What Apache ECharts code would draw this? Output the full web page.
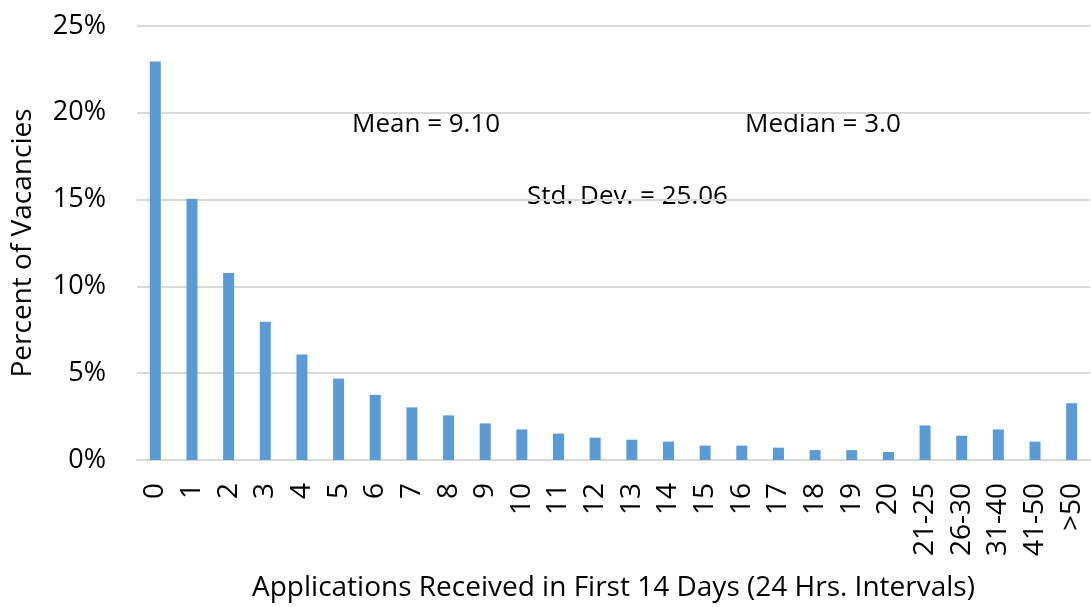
<!DOCTYPE html>
<html>
<head>
<meta charset="utf-8">
<script src="https://cdn.jsdelivr.net/npm/echarts@6/dist/echarts.min.js"></script>
<style>
  html, body { margin: 0; padding: 0; background: #fff; }
  #chart { width: 1091px; height: 607px; }
</style>
</head>
<body>
<div id="chart"></div>
<script>
const categories = ["0", "1", "2", "3", "4", "5", "6", "7", "8", "9", "10", "11", "12", "13",
  "14", "15", "16", "17", "18", "19", "20", "21-25", "26-30", "31-40", "41-50", ">50"];
const percentVacancies = [22.96, 15.05, 10.77, 7.96, 6.08, 4.69, 3.75, 3.03, 2.57, 2.11, 1.76,
  1.52, 1.29, 1.17, 1.06, 0.83, 0.83, 0.71, 0.57, 0.57, 0.46, 1.99, 1.40, 1.76, 1.06, 3.27];
const yTicks = { min: 0, max: 25, step: 5 };
const stats = ["Mean = 9.10", "Median = 3.0", "Std. Dev. = 25.06"];

const font = "'Open Sans', 'Liberation Sans', sans-serif";
const chart = echarts.init(document.getElementById("chart"));

chart.setOption({
  animation: false,
  textStyle: { fontFamily: font },
  grid: { left: 137, right: 1, top: 26, bottom: 145 },
  xAxis: {
    type: "category",
    data: categories,
    name: "Applications Received in First 14 Days (24 Hrs. Intervals)",
    nameLocation: "middle",
    nameGap: 114,
    nameTextStyle: { fontSize: 28, color: "#000", fontFamily: font },
    axisLine: { lineStyle: { color: "#d9d9d9", width: 2 } },
    axisTick: { show: false },
    axisLabel: {
      rotate: 90,
      interval: 0,
      margin: 23,
      fontSize: 28,
      color: "#000",
      fontFamily: font
    }
  },
  yAxis: {
    type: "value",
    min: yTicks.min,
    max: yTicks.max,
    interval: yTicks.step,
    name: "Percent of Vacancies",
    nameLocation: "middle",
    nameGap: 100,
    nameTextStyle: { fontSize: 28, color: "#000", fontFamily: font },
    axisLine: { show: false },
    axisTick: { show: false },
    axisLabel: {
      formatter: "{value}%",
      margin: 31,
      fontSize: 27,
      color: "#000",
      fontFamily: font
    },
    splitLine: { lineStyle: { color: "#d9d9d9", width: 2 } }
  },
  series: [
    {
      type: "bar",
      data: percentVacancies,
      barWidth: 11,
      itemStyle: { color: "#5b9bd5" }
    }
  ],
  graphic: [
    { type: "text", left: 352, top: 112, style: { text: stats[0], font: "26px " + font, fill: "#000" } },
    { type: "text", left: 745, top: 112, style: { text: stats[1], font: "26px " + font, fill: "#000" } },
    { type: "text", left: 527, top: 184, style: { text: stats[2], font: "26px " + font, fill: "#000" } }
  ]
});
</script>
</body>
</html>
